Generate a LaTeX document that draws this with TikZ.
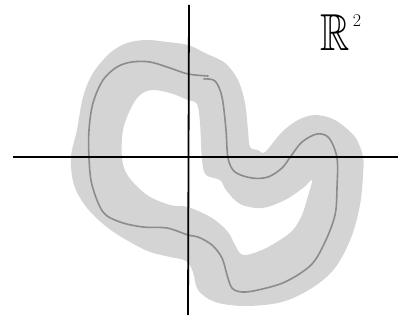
\documentclass[tikz,border=0pt]{standalone}
\usepackage{amssymb}
\begin{document}
\begin{tikzpicture}[x=1pt,y=-1pt,
  band/.style={fill=bandgray,even odd rule},
  curveline/.style={draw=curvegray,line width=1.6pt,line cap=round,line join=round},
  axis/.style={draw=black,line width=1.8pt}]
\definecolor{bandgray}{RGB}{212,212,212}
\definecolor{curvegray}{RGB}{140,140,140}
\useasboundingbox (0,0) rectangle (401,320);
% band
\fill[band] plot[smooth cycle,tension=0.55] coordinates {
 (71,157) (77,130) (83,97) (93,73) (110,53) (127,43) (147,40) (167,42) (188,45)
 (205,53) (225,63) (238,80) (245,103) (248,130) (250,147) (258,150) (265,152)
 (282,132) (298,120) (315,115) (335,120) (355,137) (363,157) (363,175)
 (360,205) (351,238) (335,268) (312,288) (282,302) (245,306) (215,302)
 (198,290) (193,272) (186,261) (170,257) (150,252) (130,242) (108,228) (87,208) (74,185)}
 plot[smooth cycle,tension=0.55] coordinates {
 (122,158) (123,130) (131,108) (140,95) (152,90) (170,93) (188,100) (197,104)
 (200,123) (202,160) (206,175) (220,180) (226,190) (240,204) (262,208) (285,200)
 (303,188) (312,180) (308,196) (302,215) (293,230) (280,240) (262,250) (243,255)
 (235,245) (228,232) (212,218) (188,207) (170,205) (147,195) (128,176)};
% curve
\draw[curveline] plot[smooth,tension=0.55] coordinates {
 (204,79) (215,81) (222,97) (226,130) (228,158) (235,172) (252,178) (268,177)
 (282,168) (291,156) (302,142) (317,134) (329,138) (337,158) (337,188) (335,215)
 (325,242) (311,265) (285,282) (258,290) (242,292) (232,288) (227,275) (222,258)
 (212,245) (198,237) (188,235) (167,228) (143,227) (120,222) (103,212) (92,185)
 (89,158) (89,130) (93,103) (103,80) (117,67) (132,62) (150,62) (170,68) (188,74) (208,76)};
% axes
\coordinate (xl) at (13,157);
\coordinate (xr) at (398,157);
\coordinate (yt) at (189,5);
\coordinate (yb) at (188,315);
\draw[axis] (xl) -- (xr);
\draw[axis] (yt) -- (yb);
% label
\node[inner sep=0,xscale=0.78] (R) at (335,33) {\fontsize{52}{52}\selectfont$\mathbb{R}$};
\node[inner sep=0] (two) at (357,21) {\fontsize{18}{18}\selectfont 2};
\end{tikzpicture}
\end{document}
